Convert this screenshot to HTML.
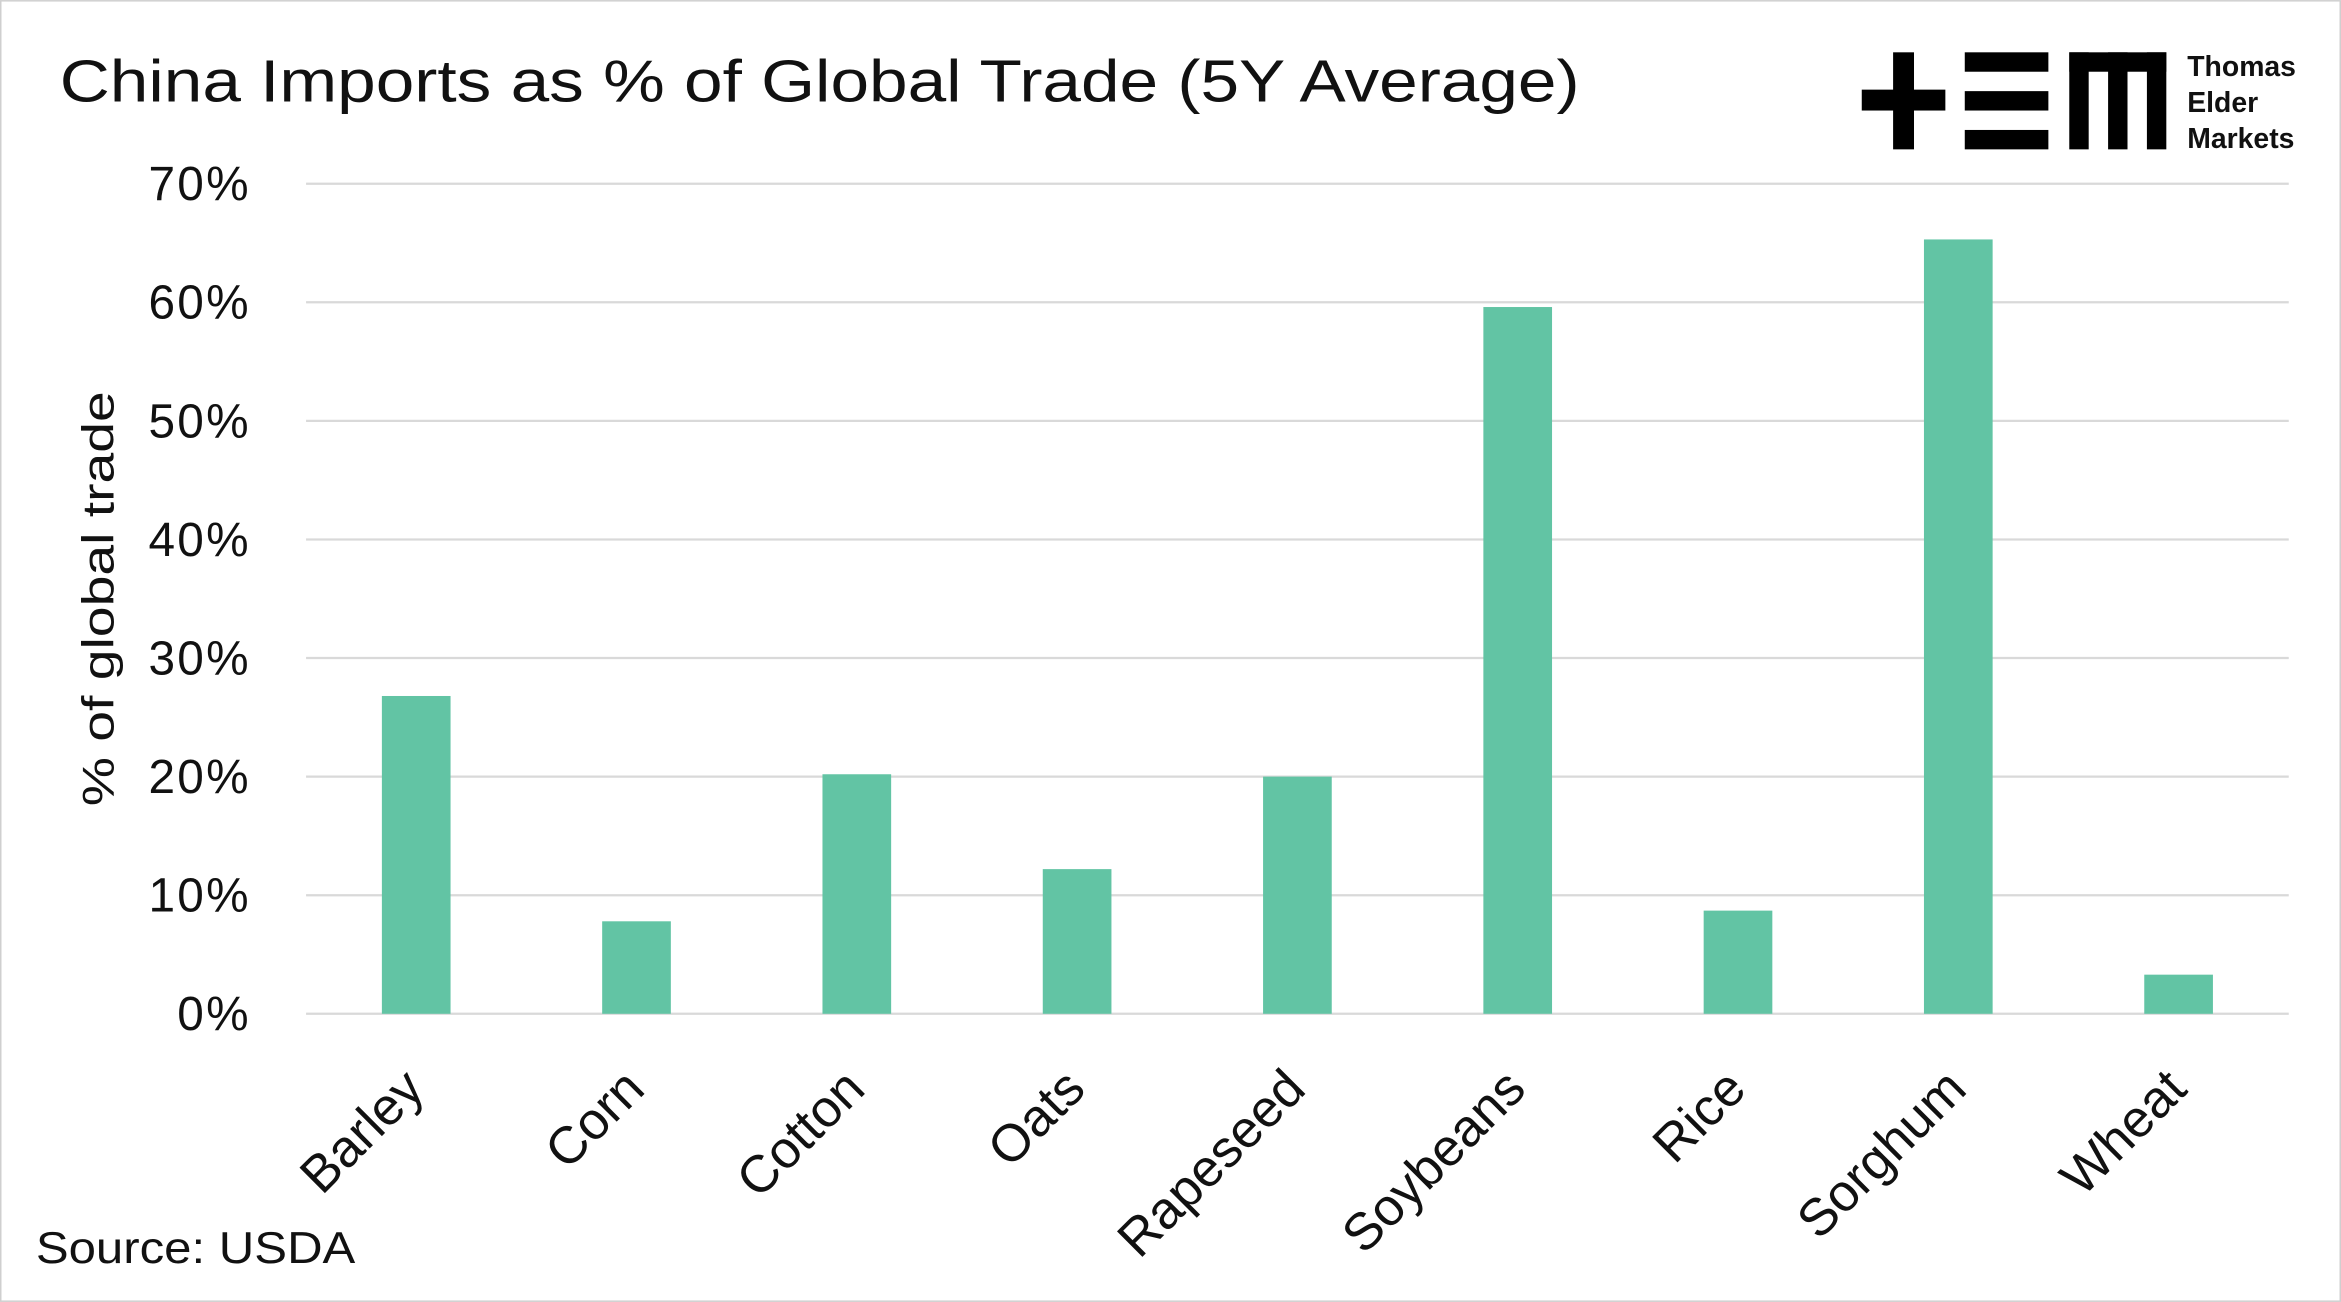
<!DOCTYPE html>
<html><head><meta charset="utf-8"><style>
html,body{margin:0;padding:0;background:#fff}
svg{display:block}
text{font-family:"Liberation Sans",sans-serif;fill:#111}
</style></head><body>
<svg width="2341" height="1302" viewBox="0 0 1568 872" xmlns="http://www.w3.org/2000/svg">
<rect x="0.5" y="0.5" width="1567" height="871" fill="#fff" stroke="#cfcfcf"/>
<text x="40" y="68" font-size="40" textLength="1018" lengthAdjust="spacingAndGlyphs">China Imports as % of Global Trade (5Y Average)</text>
<g fill="#000">
<rect x="1268" y="35" width="14" height="65"/><rect x="1247" y="60" width="56" height="14"/>
<rect x="1316" y="35" width="56" height="13"/><rect x="1316" y="61" width="56" height="13"/><rect x="1316" y="87" width="56" height="13"/>
<rect x="1386" y="35" width="65" height="13"/><rect x="1386" y="35" width="13" height="65"/><rect x="1412" y="35" width="13" height="65"/><rect x="1438" y="35" width="13" height="65"/>
<text x="1465" y="51" font-size="19" font-weight="bold">Thomas</text>
<text x="1465" y="75" font-size="19" font-weight="bold">Elder</text>
<text x="1465" y="99" font-size="19" font-weight="bold">Markets</text>
</g>
<g id="grid"></g>
<g id="yticks"></g>
<g id="bars"></g>
<g id="xlabels"></g>
<text transform="translate(76,401) rotate(-90)" text-anchor="middle" font-size="30" textLength="278" lengthAdjust="spacingAndGlyphs">% of global trade</text>
<text x="24" y="846" font-size="30" textLength="214" lengthAdjust="spacingAndGlyphs">Source: USDA</text>
</svg>
<script>
const categories=["Barley","Corn","Cotton","Oats","Rapeseed","Soybeans","Rice","Sorghum","Wheat"];
const values=[26.8,7.8,20.2,12.2,20.0,59.6,8.7,65.3,3.3];
const yTicks=[0,10,20,30,40,50,60,70];
const yTickLabels=["0%","10%","20%","30%","40%","50%","60%","70%"];
const NS="http://www.w3.org/2000/svg";
const x0=205,x1=1533,yBase=679,yTop=123,yMax=70;
const y=v=>yBase-(v/yMax)*(yBase-yTop);
const band=(x1-x0)/categories.length;
const xc=i=>x0+band*(i+0.5);
function mk(t,a,p){const e=document.createElementNS(NS,t);for(const k in a)e.setAttribute(k,a[k]);p.appendChild(e);return e;}
const grid=document.getElementById('grid'),yt=document.getElementById('yticks'),bars=document.getElementById('bars'),xl=document.getElementById('xlabels');
yTicks.forEach((v,i)=>{
  const l=mk('line',{x1:x0,x2:x1,y1:y(v),y2:y(v),stroke:'#d9d9d9','stroke-width':1.5},grid);
  
  
  const t=mk('text',{x:168,y:y(v)+11,'text-anchor':'end','font-size':32,'letter-spacing':1.5},yt);
  t.textContent=yTickLabels[i];
  
  
});
categories.forEach((c,i)=>{
  const r=mk('rect',{x:xc(i)-23,y:y(values[i]),width:46,height:yBase-y(values[i]),fill:'#62C4A4'},bars);
  
  
  const t=mk('text',{transform:`translate(${xc(i)+7},${yBase+52}) rotate(-45)`,'text-anchor':'end','font-size':35},xl);
  t.textContent=c;
  
  
});
</script>
</body></html>
